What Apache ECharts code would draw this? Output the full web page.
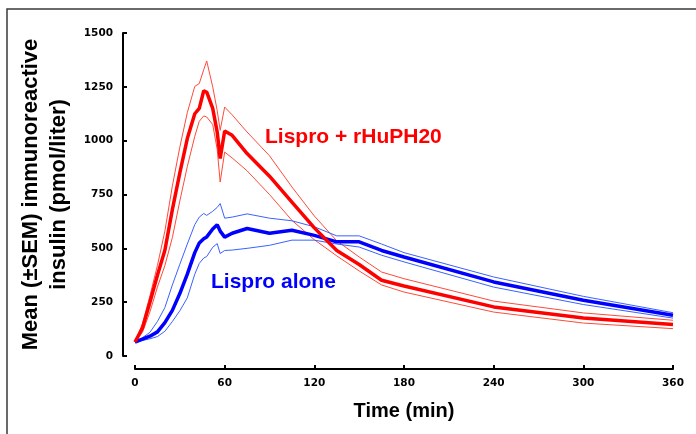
<!DOCTYPE html>
<html>
<head>
<meta charset="utf-8">
<script src="https://cdn.jsdelivr.net/npm/echarts@6/dist/echarts.min.js"></script>
<style>
  html, body { margin: 0; padding: 0; background: #fff; }
  #chart { width: 696px; height: 434px; }
</style>
</head>
<body>
<div id="chart"></div>
<script>
// Time points (min)
var times = [0, 5, 10, 15, 20, 25, 30, 35, 40, 43, 46, 48, 52, 55, 57, 60, 65, 75, 90, 105, 120, 135, 150, 165, 180, 240, 300, 360];

// Lispro + rHuPH20 (pmol/liter)
var comboMean  = [65, 130, 250, 375, 491, 680, 850, 1010, 1125, 1150, 1232, 1225, 1150, 1040, 917, 1045, 1025, 940, 835, 715, 595, 490, 425, 352, 325, 228, 176, 146];
var comboUpper = [65, 150, 280, 420, 580, 790, 970, 1130, 1252, 1265, 1330, 1370, 1250, 1140, 1048, 1156, 1120, 1040, 930, 785, 650, 535, 460, 390, 359, 255, 200, 166];
var comboLower = [65, 110, 205, 320, 420, 550, 720, 880, 1020, 1090, 1115, 1110, 1075, 960, 808, 947, 920, 860, 750, 630, 540, 465, 395, 330, 297, 204, 153, 127];

// Lispro alone (pmol/liter)
var aloneMean  = [65, 78, 92, 112, 155, 212, 290, 380, 480, 525, 545, 553, 590, 610, 580, 552, 570, 592, 570, 584, 560, 530, 530, 490, 460, 344, 259, 189];
var aloneUpper = [65, 85, 110, 160, 225, 330, 426, 520, 610, 645, 662, 653, 672, 690, 708, 640, 645, 660, 640, 628, 600, 558, 558, 520, 480, 367, 277, 201];
var aloneLower = [65, 72, 80, 90, 115, 160, 210, 270, 380, 430, 455, 462, 505, 522, 476, 490, 492, 500, 514, 538, 538, 520, 506, 468, 437, 320, 239, 176];

var xTicks = { min: 0, max: 360, interval: 60 };
var yTicks = { min: 0, max: 1500, interval: 250 };

var labelRed = 'Lispro + rHuPH20';
var labelBlue = 'Lispro alone';

function pairs(vals) {
  return times.map(function (t, i) { return [t, vals[i]]; });
}

function line(name, vals, color, width, z) {
  return {
    name: name, type: 'line', data: pairs(vals), showSymbol: false, symbol: 'none',
    lineStyle: { color: color, width: width }, z: z, silent: true
  };
}

var chart = echarts.init(document.getElementById('chart'));
chart.setOption({
  animation: false,
  backgroundColor: '#ffffff',
  grid: { left: 135, right: 23, top: 33, bottom: 78, containLabel: false, outerBoundsMode: 'none' },
  xAxis: {
    type: 'value', min: xTicks.min, max: xTicks.max, interval: xTicks.interval,
    offset: 13,
    axisLine: { show: true, onZero: false, lineStyle: { color: '#000', width: 2 } },
    axisTick: { show: true, inside: true, length: 4, lineStyle: { color: '#000', width: 2 } },
    splitLine: { show: false },
    axisLabel: { color: '#000', fontFamily: 'DejaVu Sans', fontWeight: 'bold', fontSize: 10.5, margin: 9,
      formatter: function (v) { return String(v); } },
    name: 'Time (min)', nameLocation: 'middle', nameGap: 32,
    nameTextStyle: { color: '#000', fontFamily: 'Liberation Sans', fontWeight: 'bold', fontSize: 20 }
  },
  yAxis: {
    type: 'value', min: yTicks.min, max: yTicks.max, interval: yTicks.interval,
    offset: 12,
    axisLine: { show: true, onZero: false, lineStyle: { color: '#000', width: 2 } },
    axisTick: { show: true, inside: true, length: 4, lineStyle: { color: '#000', width: 2 } },
    splitLine: { show: false },
    axisLabel: { color: '#000', fontFamily: 'DejaVu Sans', fontWeight: 'bold', fontSize: 10.5, margin: 10,
      formatter: function (v) { return String(v); } },
    name: 'Mean (±SEM) immunoreactive\ninsulin (pmol/liter)', nameLocation: 'middle', nameGap: 39, nameRotate: 90,
    nameTextStyle: { color: '#000', fontFamily: 'Liberation Sans', fontWeight: 'bold', fontSize: 22, lineHeight: 28 }
  },
  graphic: [
    { type: 'rect', shape: { x: 7, y: 9, width: 760, height: 500 }, style: { fill: 'none', stroke: '#3a3a3a', lineWidth: 1.5 }, silent: true, z: 0 },
    { type: 'text', x: 265, y: 137, style: { text: labelRed, fill: '#ff0000', font: 'bold 21px "Liberation Sans"', textAlign: 'left', textVerticalAlign: 'middle', verticalAlign: 'middle' }, z: 100 },
    { type: 'text', x: 211, y: 282.5, style: { text: labelBlue, fill: '#0000ff', font: 'bold 21px "Liberation Sans"', textAlign: 'left', textVerticalAlign: 'middle', verticalAlign: 'middle' }, z: 100 }
  ],
  series: [
    line('combo upper', comboUpper, '#ff4a3a', 1, 2),
    line('combo lower', comboLower, '#ff4a3a', 1, 2),
    line('alone upper', aloneUpper, '#3a62ff', 1, 2),
    line('alone lower', aloneLower, '#3a62ff', 1, 2),
    line('alone mean', aloneMean, '#0000ff', 3.5, 3),
    line('combo mean', comboMean, '#ff0000', 3.5, 4)
  ]
});
</script>
</body>
</html>
